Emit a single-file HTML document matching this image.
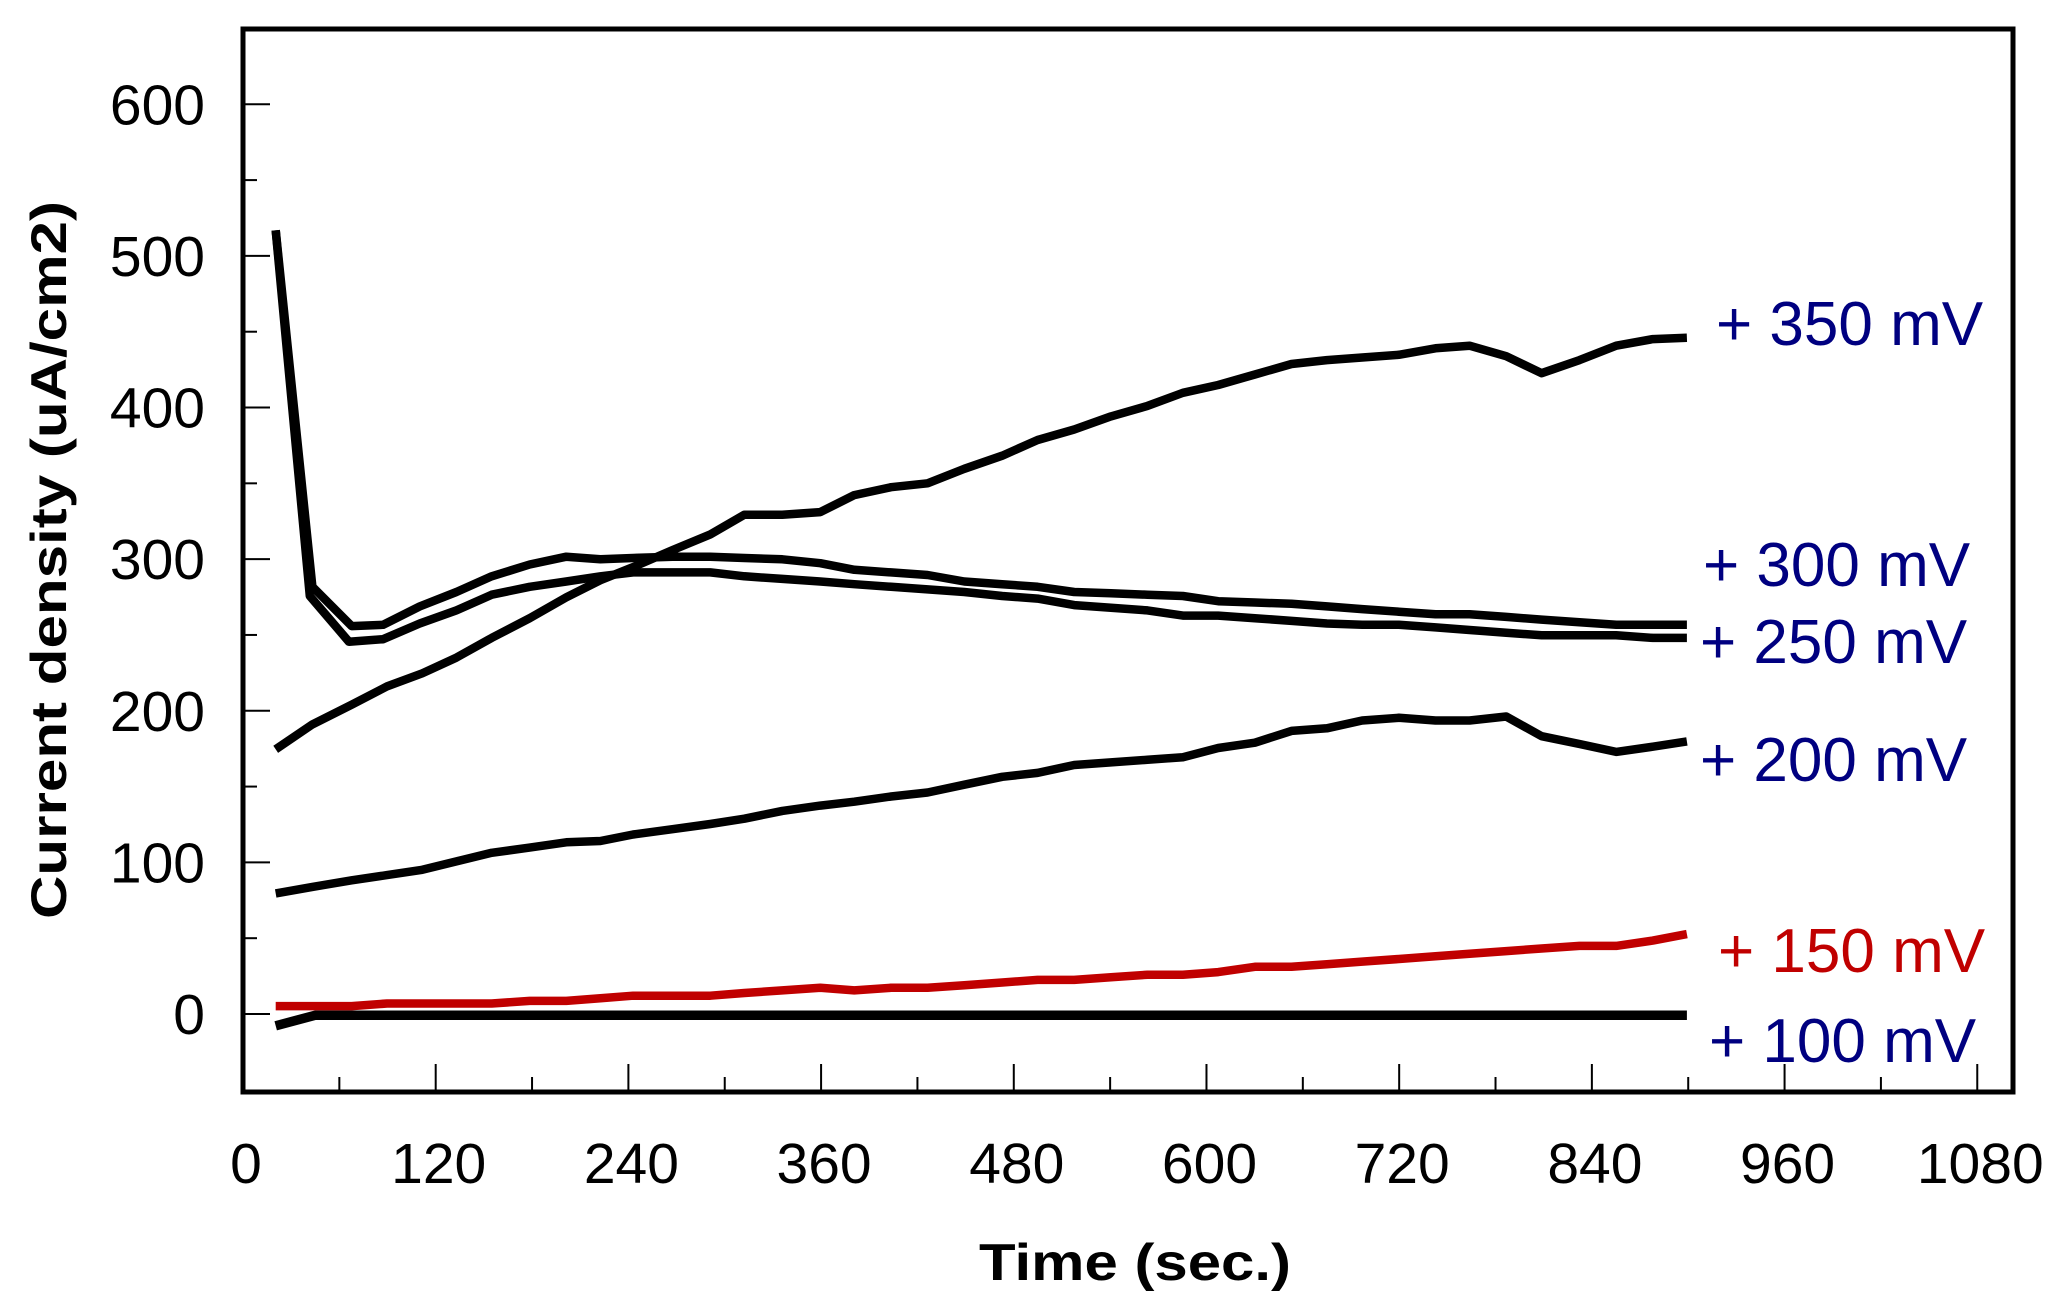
<!DOCTYPE html>
<html><head><meta charset="utf-8"><style>
html,body{margin:0;padding:0;background:#fff;}
svg{display:block;}
</style></head><body>
<svg id="c" width="2055" height="1295" viewBox="0 0 2055 1295" xmlns="http://www.w3.org/2000/svg">
<rect x="0" y="0" width="2055" height="1295" fill="#fff"/>
<rect x="243" y="29" width="1770" height="1063" fill="none" stroke="#000" stroke-width="5"/>
<g id="ticks" stroke="#000" stroke-width="2"></g>
<g font-family="Liberation Sans, sans-serif" font-size="57" fill="#000" text-anchor="end" id="ylab"></g>
<g font-family="Liberation Sans, sans-serif" font-size="57" fill="#000" text-anchor="middle" id="xlab"></g>
<text x="0" y="0" transform="translate(66,560) rotate(-90)" font-family="Liberation Sans, sans-serif" font-weight="bold" font-size="50" text-anchor="middle" textLength="718" lengthAdjust="spacingAndGlyphs">Current density (uA/cm2)</text>
<text x="1135" y="1280" font-family="Liberation Sans, sans-serif" font-weight="bold" font-size="52" text-anchor="middle" textLength="312" lengthAdjust="spacingAndGlyphs">Time (sec.)</text>
<g id="series" fill="none" stroke-linejoin="round"></g>
<g font-family="Liberation Sans, sans-serif" font-size="62" fill="#000080">
<text x="1716" y="345">+ 350 mV</text>
<text x="1703" y="586">+ 300 mV</text>
<text x="1700" y="663">+ 250 mV</text>
<text x="1700" y="781">+ 200 mV</text>
<text x="1718" y="972" fill="#c00000">+ 150 mV</text>
<text x="1709" y="1062">+ 100 mV</text>
</g>
</svg>
<script>
var NS="http://www.w3.org/2000/svg";
function X(t){return 243+1.6058*t;}
function Y(v){return 1014-1.5162*v;}
function el(n,a,p,txt){var e=document.createElementNS(NS,n);for(var k in a)e.setAttribute(k,a[k]);if(txt!==undefined)e.textContent=txt;p.appendChild(e);return e;}
var tk=document.getElementById('ticks'),yl=document.getElementById('ylab'),xl=document.getElementById('xlab');
for(var v=-50;v<=650;v+=50){var y=Y(v);if(y<32||y>1089)continue;var maj=(v%100===0);el('line',{x1:243,y1:y,x2:maj?270:257,y2:y},tk);if(maj)el('text',{x:205,y:y+20},yl,String(v));}
for(var t=60;t<=1140;t+=60){var x=X(t);if(x>2010)continue;var maj=(t%120===0);el('line',{x1:x,y1:1092,x2:x,y2:maj?1064:1077},tk);}
for(var t=0;t<=1080;t+=120){el('text',{x:X(t)+3,y:1183},xl,String(t));}
function conv(a){return a.map(function(p){var t=(p[0]-185)/1.2267,v=(774-p[1])/1.157;return X(t).toFixed(1)+','+Y(v).toFixed(1);}).join(' ');}
var S=[
{c:'#000',w:8.5,d:[[210,572],[238,553],[268,538],[295,524],[322,514],[348,502],[375,487],[404,472],[432,456],[458,443],[483,433],[513,420],[542,408],[568,393],[597,393],[626,391],[652,378],[680,372],[708,369],[736,358],[765,348],[792,336],[820,328],[848,318],[876,310],[903,300],[930,294],[958,286],[986,278],[1013,275],[1040,273],[1068,271],[1096,266],[1122,264],[1150,272],[1177,285],[1206,275],[1234,264],[1262,259],[1288,258]]},
{c:'#000',w:8.5,d:[[210,176],[238,448],[268,478],[292,477],[320,463],[348,452],[375,440],[404,431],[432,425],[458,427],[483,426],[513,425],[542,425],[568,426],[597,427],[626,430],[652,435],[680,437],[708,439],[736,444],[765,446],[792,448],[820,452],[848,453],[876,454],[903,455],[930,459],[958,460],[986,461],[1013,463],[1040,465],[1068,467],[1096,469],[1122,469],[1150,471],[1177,473],[1206,475],[1234,477],[1262,477],[1288,477]]},
{c:'#000',w:8.5,d:[[210,176],[236,455],[266,490],[292,488],[320,476],[348,466],[375,454],[404,448],[432,444],[458,440],[483,437],[513,437],[542,437],[568,440],[597,442],[626,444],[652,446],[680,448],[708,450],[736,452],[765,455],[792,457],[820,462],[848,464],[876,466],[903,470],[930,470],[958,472],[986,474],[1013,476],[1040,477],[1068,477],[1096,479],[1122,481],[1150,483],[1177,485],[1206,485],[1234,485],[1262,487],[1288,487]]},
{c:'#000',w:8.5,d:[[210,682],[238,677],[268,672],[295,668],[322,664],[350,657],[375,651],[404,647],[432,643],[458,642],[483,637],[513,633],[542,629],[568,625],[597,619],[626,615],[652,612],[680,608],[708,605],[736,599],[765,593],[792,590],[820,584],[848,582],[876,580],[903,578],[930,571],[958,567],[986,558],[1013,556],[1040,550],[1068,548],[1096,550],[1122,550],[1150,547],[1177,562],[1206,568],[1234,574],[1262,570],[1288,566]]},
{c:'#c00000',w:8.5,d:[[210,768],[268,768],[295,766],[375,766],[404,764],[432,764],[458,762],[483,760],[542,760],[568,758],[597,756],[626,754],[652,756],[680,754],[708,754],[736,752],[765,750],[792,748],[820,748],[848,746],[876,744],[903,744],[930,742],[958,738],[986,738],[1013,736],[1040,734],[1068,732],[1096,730],[1122,728],[1150,726],[1177,724],[1206,722],[1234,722],[1262,718],[1288,713]]},
{c:'#000',w:9.5,d:[[210,783],[240,775],[1288,775]]}
];
var g=document.getElementById('series');
S.forEach(function(s){el('polyline',{points:conv(s.d),stroke:s.c,'stroke-width':s.w},g);});
</script>
</body></html>
